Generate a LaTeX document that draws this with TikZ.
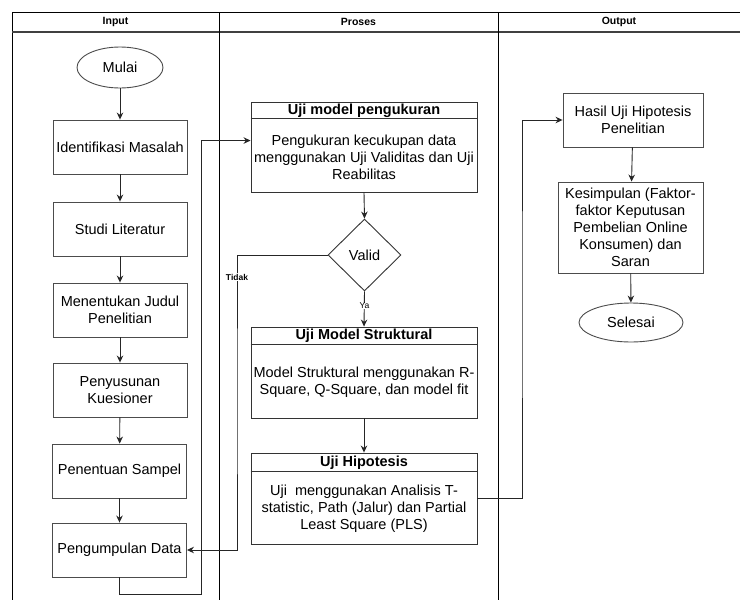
\documentclass[tikz,border=0pt]{standalone}
\usepackage{fontspec}
\setmainfont{Liberation Sans}
\usetikzlibrary{shapes.geometric,arrows.meta,calc}
\begin{document}
\begin{tikzpicture}[x=1pt,y=-1pt,
  frame/.style={draw=black, line width=0.9pt},
  box/.style={draw=black!70, line width=0.9pt, rectangle, minimum width=134pt, minimum height=54pt,
    inner sep=0pt, align=center, font=\fontsize{14.5}{17}\selectfont},
  term/.style={draw=black!70, line width=0.9pt, ellipse, inner sep=0pt, font=\fontsize{14.5}{17}\selectfont},
  lane/.style={draw=black!80, line width=0.9pt, rectangle, minimum width=226pt, minimum height=91pt, inner sep=0pt},
  lanehead/.style={inner sep=0pt, font=\bfseries\fontsize{14.5}{17}\selectfont},
  lanebody/.style={inner sep=0pt, align=center, font=\fontsize{14.5}{17}\selectfont},
  dec/.style={draw=black!80, line width=0.9pt, diamond, aspect=1, minimum width=73pt, minimum height=72pt,
    inner sep=0pt, font=\fontsize{14.5}{17}\selectfont},
  arr/.style={draw=black!85, line width=0.9pt, -{Stealth[length=7pt,width=6.5pt]}},
  lbl/.style={inner sep=0.5pt, fill=white, font=\fontsize{8.5}{10}\selectfont},
  hdr/.style={inner sep=0pt, font=\bfseries\fontsize{10.5}{12}\selectfont}
]
\useasboundingbox (0,0) rectangle (740,600);
\fill[white] (0,0) rectangle (740,600);

% pool frame
\coordinate (tl) at (12,12);
\draw[frame] (12,600) -- (12,12) -- (740,12);
\draw[draw=black!75, line width=1.3pt] (12,32) -- (740,32);
\draw[frame] (219,12) -- (219,600);
\draw[frame] (498,12) -- (498,600);
\node[hdr] (hin) at (115.5,21.5) {Input};
\node[hdr] (hpr) at (358.5,21.5) {Proses};
\node[hdr] (hout) at (619,21.5) {Output};

% Input column
\node[term, minimum width=86pt, minimum height=41pt] (mulai) at (120,67.5) {Mulai};
\node[box] (idm) at (120,147) {Identifikasi Masalah};
\node[box] (stl) at (120,229) {Studi Literatur};
\node[box] (mjp) at (120,310) {Menentukan Judul\\Penelitian};
\node[box] (pk) at (120,390) {Penyusunan\\Kuesioner};
\node[box] (ps) at (119.5,471) {Penentuan Sampel};
\node[box] (pd) at (119.5,550) {Pengumpulan Data};

% Proses column
\node[lane, minimum height=90pt] (m1) at (364,147) {};
\draw[draw=black!80, line width=0.9pt] ($(m1.north west)+(0,17)$) -- ($(m1.north east)+(0,17)$);
\node[lanehead] (m1h) at ($(m1.north)+(0,9)$) {Uji model pengukuran};
\node[lanebody] (m1b) at (364,157) {Pengukuran kecukupan data\\menggunakan Uji Validitas dan Uji\\Reabilitas};

\node[dec] (valid) at (364.5,255) {Valid};

\node[lane] (m2) at (364,372.5) {};
\draw[draw=black!80, line width=0.9pt] ($(m2.north west)+(0,18)$) -- ($(m2.north east)+(0,18)$);
\node[lanehead] (m2h) at ($(m2.north)+(0,9.5)$) {Uji Model Struktural};
\node[lanebody] (m2b) at (364,382.5) {Model Struktural menggunakan R-\\Square, Q-Square, dan model fit};

\node[lane] (m3) at (364,498.5) {};
\draw[draw=black!80, line width=0.9pt] ($(m3.north west)+(0,19)$) -- ($(m3.north east)+(0,19)$);
\node[lanehead] (m3h) at ($(m3.north)+(0,10)$) {Uji Hipotesis};
\node[lanebody] (m3b) at (364,509) {Uji\ \ menggunakan Analisis T-\\statistic, Path (Jalur) dan Partial\\Least Square (PLS)};

% Output column
\node[box, minimum width=140pt] (hasil) at (633,120) {Hasil Uji Hipotesis\\Penelitian};
\node[box, minimum width=145pt, minimum height=91pt] (kes) at (630.5,227.5) {Kesimpulan (Faktor-\\faktor Keputusan\\Pembelian Online\\Konsumen) dan\\Saran};
\node[term, minimum width=104pt, minimum height=39pt] (sel) at (631,322.5) {Selesai};

% connectors
\draw[arr] (mulai) -- (idm);
\draw[arr] (idm) -- (stl);
\draw[arr] (stl) -- (mjp);
\draw[arr] (mjp) -- (pk);
\draw[arr] (pk) -- (ps);
\draw[arr] (ps) -- (pd);

\coordinate (c1) at (201,594);
\coordinate (m1in) at ($(m1.north west)+(0,39)$);
\draw[arr] (pd.south) |- (c1) |- (m1in);

\draw[arr] (m1.south) -- (valid.north);
\coordinate (c3) at (237,400);
\draw[arr] (valid.west) -| (c3) |- (pd.east);
\node[lbl, font=\bfseries\fontsize{8.5}{10}\selectfont] (tidak) at (237,277) {Tidak};
\draw[arr] (valid.south) -- (m2.north);
\node[lbl] (ya) at (364.5,306) {Ya};
\draw[arr] (m2.south) -- (m3.north);

\coordinate (c4) at (522,300);
\draw[arr] (m3.east) -| (c4) |- (hasil.west);
\draw[arr] (hasil) -- (kes);
\draw[arr] (kes) -- (sel);
\end{tikzpicture}
\end{document}
